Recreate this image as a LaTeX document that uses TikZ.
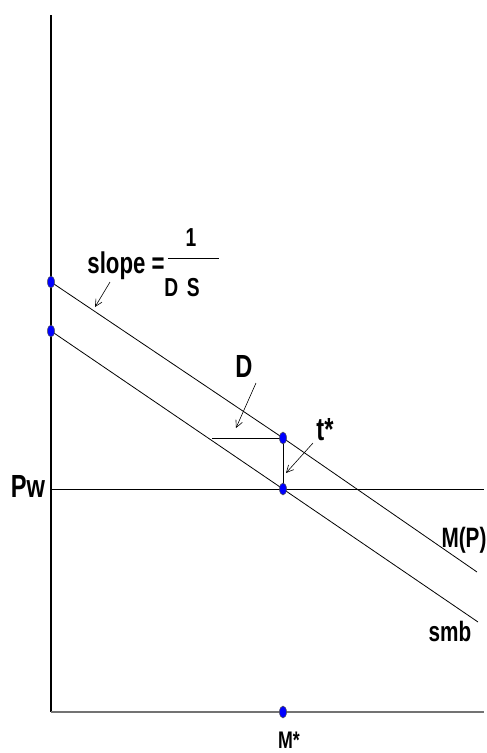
\documentclass[tikz,border=0pt]{standalone}
\usepackage{fontspec}
\setmainfont{Liberation Sans}[FakeStretch=0.74]
\usetikzlibrary{arrows.meta,positioning,shapes.geometric}

\tikzset{
  pt/.style={ellipse, draw=black!70, fill=blue, line width=0.5pt, minimum width=7pt, minimum height=12pt, inner sep=0pt},
  lbl/.style={font=\bfseries\fontsize{26}{26}\selectfont, inner sep=0pt},
  pointer/.style={-{Straight Barb[length=7pt,width=7pt]}, line width=0.6pt}
}

\begin{document}
\begin{tikzpicture}[x=1pt, y=-1pt, line width=0.8pt]
    		\useasboundingbox (0,0) rectangle (487,753);
    		% Axes
    		\coordinate (Top) at (51,15);
    		\coordinate (Origin) at (51,712);
    		\coordinate (Right) at (484,712);
    		\draw[line width=1.3pt] (Top) -- (Origin);
    		\draw[line width=2pt, black!55] (Origin) -- (Right);
    		
    		% Points on the axes and the lines
    		\coordinate (A) at (51,282);         % M(P) intercept
    		\coordinate (C) at (51,331);         % smb intercept
    		\coordinate (B) at (283,438);        % on M(P)
    		\coordinate (E) at (283,489);        % on smb, at Pw
    		\coordinate (Bend) at (477,572);
    		\coordinate (Eend) at (478,622);
    		\coordinate (Pwend) at (484,489);
    		\coordinate (Dleft) at (212,438);
    		
    		% World price line
    		\draw (Origin |- E) -- (Pwend);
    		
    		% M(P) and smb lines
    		\draw (A) -- (B) -- (Bend);
    		\draw (C) -- (E) -- (Eend);
    		
    		% D step and t* gap
    		\draw (Dleft) -- (B);
    		\draw (B) -- (E);
    		
    		% Dots
    		\node[pt] (dotA) at (A) {};
    		\node[pt] (dotC) at (C) {};
    		\node[pt] (dotB) at (B) {};
    		\node[pt] (dotE) at (E) {};
    		\node[pt] (dotM) at (283,712) {};
    		
    		% Labels
    		\node[lbl, font=\bfseries\fontsize{32}{32}\selectfont] (Pw) at (28,486) {Pw};
    		\node[lbl, font=\bfseries\fontsize{28}{28}\selectfont] (MP) at (464,540) {M(P)};
    		\node[lbl, font=\bfseries\fontsize{28}{28}\selectfont] (smb) at (450,631) {smb};
    		\node[lbl, font=\bfseries\fontsize{24}{24}\selectfont] (Mlbl) at (289,740) {M*};
    		\node[lbl, font=\bfseries\fontsize{32}{32}\selectfont] (tstar) at (325,430) {t*};
    		\node[lbl, font=\bfseries\fontsize{32}{32}\selectfont] (Dlbl) at (244,366) {D};
    		
    		% slope = 1/(D S)
    		\node[lbl, font=\bfseries\fontsize{30}{30}\selectfont] (slope) at (126,266) {slope =};
    		\node[lbl] (one) at (191,238) {1};
    		\node[lbl] (DS) at (182,288) {D\,\,S};
    		\coordinate (barL) at (168,258);
    		\coordinate (barR) at (219,258);
    		\draw (barL) -- (barR);
    		
    		% Pointers
    		\coordinate (slopeTip) at (95,307);
    		\coordinate (Dtip) at (236,428);
    		\coordinate (ttip) at (286,473);
    		\draw[pointer] (110,282) -- (slopeTip);
    		\draw[pointer] (256,383) -- (Dtip);
    		\draw[pointer] (313,443) -- (ttip);
\end{tikzpicture}
\end{document}
